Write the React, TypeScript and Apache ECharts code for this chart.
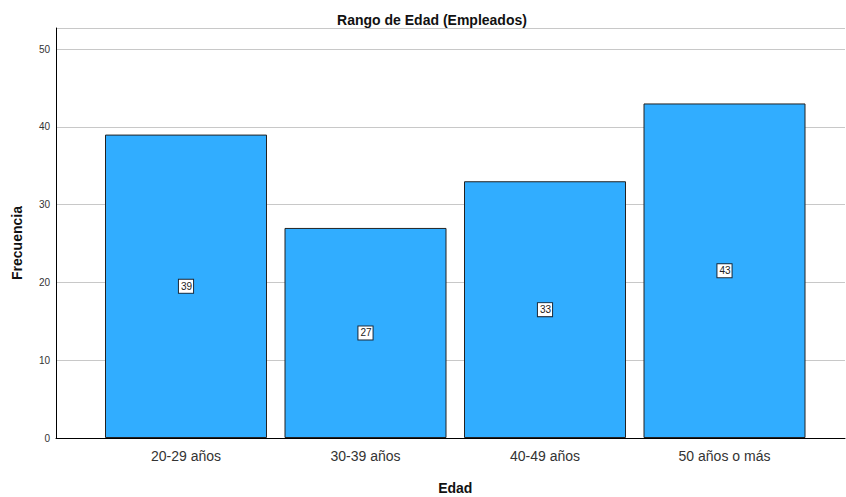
import React, { useEffect, useRef } from "react";
import * as echarts from "echarts";

const categories = ["20-29 años", "30-39 años", "40-49 años", "50 años o más"];
const values = [39, 27, 33, 43];
const yTicks = [0, 10, 20, 30, 40, 50];

const title = "Rango de Edad (Empleados)";
const xName = "Edad";
const yName = "Frecuencia";

export default function App() {
  const ref = useRef<HTMLDivElement>(null);
  useEffect(() => {
    if (!ref.current) return;
    document.body.style.margin = "0";
    const chart = echarts.init(ref.current, undefined, { renderer: "svg" });
    const yMax = 52.7;
    const font = "Arial, Liberation Sans, sans-serif";
    chart.setOption({
      animation: false,
      backgroundColor: "#ffffff",
      textStyle: { fontFamily: font },
      title: {
        text: title,
        left: 427,
        textAlign: "center",
        top: 8,
        textStyle: { fontSize: 14, fontWeight: "bold", color: "#111", fontFamily: font },
      },
      graphic: [
        {
          type: "text",
          x: 17,
          y: 243,
          rotation: Math.PI / 2,
          style: {
            text: yName,
            fontSize: 14,
            fontWeight: "bold",
            fill: "#111",
            fontFamily: font,
            align: "center",
            verticalAlign: "middle",
          },
        },
      ],
      grid: [
        { left: 56, right: 1, top: 28, bottom: 59, outerBoundsMode: "none", containLabel: false },
        { left: 96.25, right: 31.75, top: 28, bottom: 59, outerBoundsMode: "none", containLabel: false },
      ],
      xAxis: [
        {
          gridIndex: 0,
          type: "value",
          min: 0,
          max: 1,
          axisLine: { show: true, onZero: false, lineStyle: { color: "#000", width: 1 } },
          axisTick: { show: false },
          axisLabel: { show: false },
          splitLine: { show: false },
        },
        {
          gridIndex: 1,
          type: "category",
          data: categories,
          axisLine: { show: false },
          axisTick: { show: false },
          axisLabel: { color: "#333", fontSize: 14, margin: 11, fontFamily: font },
          name: xName,
          nameLocation: "middle",
          nameGap: 43,
          nameTextStyle: { fontSize: 14, fontWeight: "bold", color: "#111", fontFamily: font },
        },
      ],
      yAxis: [
        {
          gridIndex: 0,
          type: "value",
          min: 0,
          max: yMax,
          interval: 10,
          axisLine: { show: true, lineStyle: { color: "#000", width: 1 } },
          axisTick: { show: false },
          axisLabel: {
            color: "#333",
            fontSize: 10,
            margin: 6,
            fontFamily: font,
            formatter: (v: number) => (yTicks.includes(v) ? String(v) : ""),
          },
          splitLine: { show: true, lineStyle: { color: "#c8c8c8", width: 1 } },
        },
        {
          gridIndex: 1,
          type: "value",
          min: 0,
          max: yMax,
          interval: 10,
          show: false,
          splitLine: { show: false },
        },
      ],
      series: [
        {
          type: "bar",
          xAxisIndex: 1,
          yAxisIndex: 1,
          data: values,
          barWidth: 162,
          itemStyle: { color: "#31adff", borderColor: "#222", borderWidth: 1 },
          label: {
            show: true,
            position: "inside",
            color: "#222",
            fontSize: 10,
            fontFamily: font,
            backgroundColor: "#fff",
            borderColor: "#1a2a3a",
            borderWidth: 1,
            padding: [2, 1, 1, 2],
          },
        },
      ],
    });
    return () => chart.dispose();
  }, []);
  return <div ref={ref} style={{ width: 846, height: 497 }} />;
}
